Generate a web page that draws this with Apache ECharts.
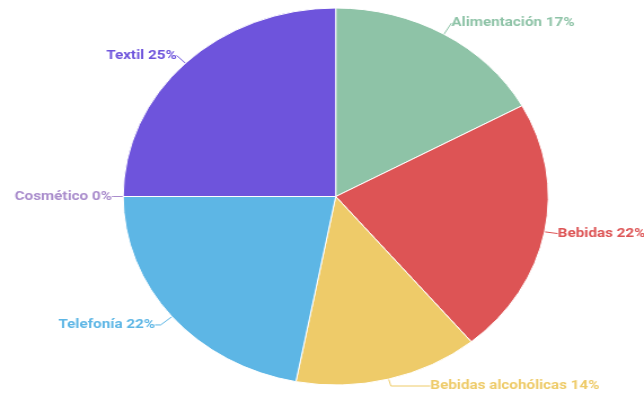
<!DOCTYPE html>
<html>
<head>
<meta charset="utf-8">
<script src="https://cdn.jsdelivr.net/npm/echarts@6/dist/echarts.min.js"></script>
<style>
  html, body { margin: 0; padding: 0; background: #fff; overflow: hidden; }
  /* the pie is drawn as an ellipse: the chart box is stretched horizontally */
  #chart { width: 571px; height: 394px; transform: scaleX(1.1278); transform-origin: 0 0; }
</style>
</head>
<body>
<div id="chart"></div>
<script>
const categories = ['Alimentación', 'Bebidas', 'Bebidas alcohólicas', 'Telefonía', 'Cosmético', 'Textil'];
const values = [17, 22, 14, 22, 0, 25];
const colors = ['#8ec3a7', '#dd5455', '#eecb69', '#5db6e5', '#a98ccc', '#6e54dc'];
// leader line lengths per slice: [first segment, second segment]
const leaderLines = [[13, 0], [12, 0], [8, 35], [13, 5], [9, 1], [11, 0]];

const chart = echarts.init(document.getElementById('chart'));
chart.setOption({
  animation: false,
  series: [{
    type: 'pie',
    center: [297.7, 196.5],
    radius: 188.5,
    startAngle: 90,
    clockwise: true,
    percentPrecision: 0,
    avoidLabelOverlap: true,
    itemStyle: { borderColor: '#ffffff', borderWidth: 1 },
    label: {
      show: true,
      position: 'outside',
      formatter: '{b} {d}%',
      color: 'inherit',
      fontFamily: 'Roboto',
      fontWeight: 'bold',
      fontSize: 13.5,
      overflow: 'none',
      padding: [0, 0, 5, 0],
      distanceToLabelLine: 0
    },
    labelLine: { show: true, length: 13, length2: 1, lineStyle: { width: 1 } },
    data: categories.map((c, i) => ({
      name: c,
      value: values[i],
      itemStyle: { color: colors[i] },
      labelLine: { length: leaderLines[i][0], length2: leaderLines[i][1] }
    }))
  }]
});
</script>
</body>
</html>
